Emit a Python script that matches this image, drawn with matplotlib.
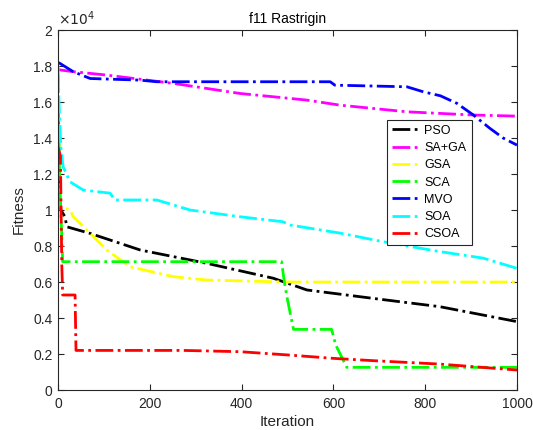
#import python libraries
import matplotlib
matplotlib.use("Agg")
import matplotlib.pyplot as plt
from matplotlib.ticker import FuncFormatter

plt.rcParams['font.family'] = ['Liberation Sans', 'DejaVu Sans']

#convergence curves (iteration, fitness)
pso_it = [0, 1, 3, 6, 15, 19, 70, 179, 324, 469, 542, 687, 832, 1000]
pso_fit = [15500, 13000, 11000, 10000, 9630, 9070, 8700, 7780, 7040, 6210, 5560, 5090, 4630, 3800]

saga_it = [0, 33, 106, 251, 396, 542, 614, 760, 905, 1000]
saga_fit = [17800, 17690, 17500, 17040, 16480, 16110, 15830, 15460, 15280, 15220]

gsa_it = [0, 2, 4, 26, 33, 106, 157, 251, 324, 469, 520, 1000]
gsa_fit = [16000, 13000, 10200, 10000, 9630, 7780, 6850, 6300, 6110, 6020, 6000, 6000]

sca_it = [0, 3, 10, 487, 493, 500, 513, 596, 605, 629, 1000]
sca_fit = [17500, 12000, 7130, 7130, 6000, 5000, 3370, 3370, 2500, 1260, 1260]

mvo_it = [0, 4, 33, 70, 179, 215, 593, 603, 760, 796, 833, 869, 905, 941, 970, 1000]
mvo_fit = [18200, 18150, 17690, 17310, 17220, 17130, 17130, 16940, 16850, 16570, 16350, 15930, 15280, 14540, 14000, 13610]

soa_it = [0, 2, 6, 11, 26, 55, 113, 124, 215, 288, 396, 490, 505, 614, 708, 832, 926, 1000]
soa_fit = [18000, 16000, 13500, 12400, 11570, 11110, 10940, 10560, 10560, 10000, 9630, 9350, 9170, 8720, 8240, 7690, 7330, 6760]

csoa_it = [0, 5, 8, 10, 37, 39, 273, 396, 505, 599, 687, 832, 1000]
csoa_fit = [13500, 13000, 7000, 5280, 5280, 2200, 2200, 2130, 1940, 1760, 1630, 1440, 1110]

series = [("PSO", pso_it, pso_fit, (0, 0, 0)),
          ("SA+GA", saga_it, saga_fit, (1, 0, 1)),
          ("GSA", gsa_it, gsa_fit, (1, 1, 0)),
          ("SCA", sca_it, sca_fit, (0, 1, 0)),
          ("MVO", mvo_it, mvo_fit, (0, 0, 1)),
          ("SOA", soa_it, soa_fit, (0, 1, 1)),
          ("CSOA", csoa_it, csoa_fit, (1, 0, 0))]

fig = plt.figure(figsize=(5.33, 4.30), dpi=100)
ax = fig.add_axes([0.109, 0.093, 0.861, 0.837])

for name, it, fit, col in series:
    ax.plot(it, fit, linestyle='-.', color=col, linewidth=2, label=name)

ax.set_xlim(0, 1000)
ax.set_ylim(0, 20000)
ax.set_xticks([0, 200, 400, 600, 800, 1000])
ax.set_yticks([i * 2000 for i in range(11)])
ax.yaxis.set_major_formatter(FuncFormatter(lambda v, p: "%g" % round(v / 1e4, 1)))
ax.tick_params(direction='in', top=True, right=True, labelsize=10, colors='#262626', length=4)
ax.tick_params(axis='x', pad=5)
ax.tick_params(axis='y', pad=4)
for s in ax.spines.values():
    s.set_color('#262626')

ax.set_title("f11 Rastrigin", fontsize=10, color='#000000', pad=5)
ax.set_xlabel("Iteration", fontsize=11, color='#262626', labelpad=3)
ax.set_ylabel("Fitness", fontsize=11, color='#262626', labelpad=5)
ax.text(0.0, 1.005, r"$\times10^{4}$", transform=ax.transAxes, fontsize=10,
        color='#262626', va='bottom', ha='left')

leg = ax.legend(loc='upper left', bbox_to_anchor=(0.703, 0.768), fontsize=9,
                handlelength=2.3, handletextpad=0.3, labelspacing=0.42,
                borderpad=0.4, fancybox=False, framealpha=1, edgecolor='#262626')
leg.get_frame().set_linewidth(0.8)

fig.savefig("out.png", dpi=100)
